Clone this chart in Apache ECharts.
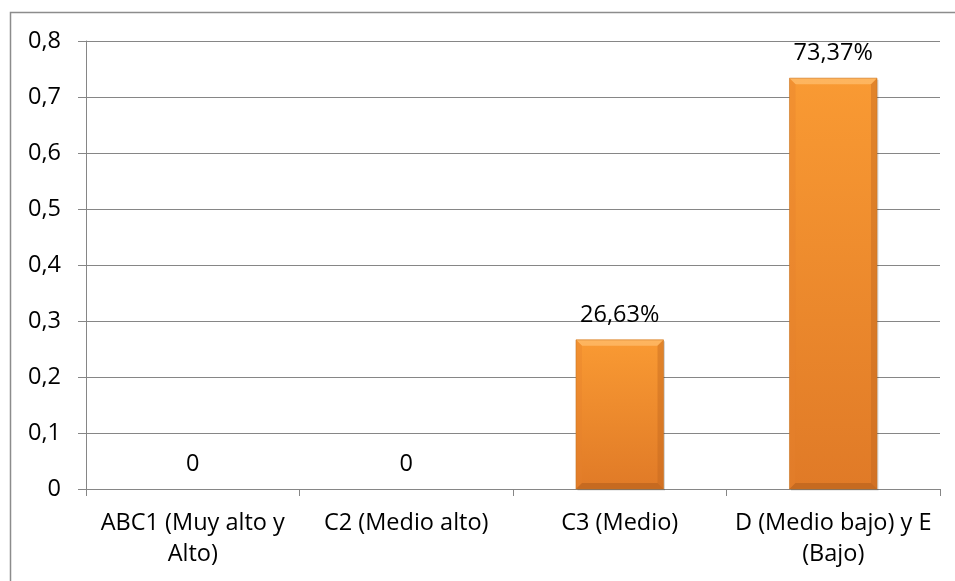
<!DOCTYPE html>
<html>
<head>
<meta charset="utf-8">
<script src="https://cdn.jsdelivr.net/npm/echarts@6/dist/echarts.min.js"></script>
<style>
  html, body { margin: 0; padding: 0; background: #fff; }
  #chart { width: 955px; height: 581px; }
</style>
</head>
<body>
<div id="chart"></div>
<script>
// Socioeconomic level categories and their shares
const categories = ['ABC1 (Muy alto y\nAlto)', 'C2 (Medio alto)', 'C3 (Medio)', 'D (Medio bajo) y E\n(Bajo)'];
const values = [0, 0, 0.2663, 0.7337];
const valueLabels = ['0', '0', '26,63%', '73,37%'];
const yTicks = { min: 0, max: 0.8, interval: 0.1 };

const FONT = '"Open Sans", sans-serif';
const FONT_SIZE = 23.5;
const BAR_RATIO = 0.41;
const chart = echarts.init(document.getElementById('chart'), null, { renderer: 'canvas' });

// Bevelled orange bar: flat face plus four edge facets
function renderBevelBar(params, api) {
  const v = api.value(1);
  if (!v) return null;
  const top = api.coord([api.value(0), v]);
  const base = api.coord([api.value(0), 0]);
  const w = api.size([1, 0])[0] * BAR_RATIO;
  const x0 = top[0] - w / 2, x1 = top[0] + w / 2;
  const y0 = top[1], y1 = base[1];
  const b = Math.min(6, (y1 - y0) / 3);
  const face = new echarts.graphic.LinearGradient(0, 0, 0, 1, [
    { offset: 0, color: '#F99A33' },
    { offset: 1, color: '#E07A27' }
  ]);
  return {
    type: 'group',
    children: [
      { type: 'rect', shape: { x: x0 + 1.5, y: y0 + 1.5, width: w, height: y1 - y0 },
        style: { fill: 'rgba(0,0,0,0.15)' } },
      { type: 'rect', shape: { x: x0, y: y0, width: w, height: y1 - y0 },
        style: { fill: face } },
      { type: 'polygon', shape: { points: [[x0, y0], [x1, y0], [x1 - b, y0 + b], [x0 + b, y0 + b]] },
        style: { fill: 'rgba(255,190,110,0.75)' } },
      { type: 'polygon', shape: { points: [[x0, y0], [x0 + b, y0 + b], [x0 + b, y1 - b], [x0, y1]] },
        style: { fill: 'rgba(230,130,45,0.35)' } },
      { type: 'polygon', shape: { points: [[x1, y0], [x1, y1], [x1 - b, y1 - b], [x1 - b, y0 + b]] },
        style: { fill: 'rgba(190,100,30,0.4)' } },
      { type: 'polygon', shape: { points: [[x0, y1], [x0 + b, y1 - b], [x1 - b, y1 - b], [x1, y1]] },
        style: { fill: 'rgba(180,95,28,0.6)' } },
      { type: 'rect', shape: { x: x0, y: y0, width: w, height: y1 - y0 },
        style: { fill: 'none', stroke: 'rgba(200,115,35,0.7)', lineWidth: 0.8 } }
    ]
  };
}

chart.setOption({
  animation: false,
  backgroundColor: '#ffffff',
  graphic: [{
    type: 'rect',
    shape: { x: 10.5, y: 12.5, width: 1000, height: 700 },
    style: { fill: 'none', stroke: '#8c8c8c', lineWidth: 1.5 },
    silent: true
  }],
  grid: { left: 86, right: 15, top: 41, bottom: 92 },
  xAxis: {
    type: 'category',
    data: categories,
    axisLine: { lineStyle: { color: '#868686', width: 1 } },
    axisTick: { show: true, length: 7, lineStyle: { color: '#868686' } },
    axisLabel: {
      color: '#000', fontFamily: FONT, fontSize: FONT_SIZE, lineHeight: 31,
      margin: 19, interval: 0, align: 'center'
    }
  },
  yAxis: {
    type: 'value',
    min: yTicks.min, max: yTicks.max, interval: yTicks.interval,
    axisLine: { show: true, lineStyle: { color: '#868686', width: 1 } },
    axisTick: { show: true, length: 8, lineStyle: { color: '#868686' } },
    splitLine: { show: true, lineStyle: { color: '#868686', width: 1 } },
    axisLabel: {
      color: '#000', fontFamily: FONT, fontSize: FONT_SIZE, margin: 25,
      formatter: v => String(Math.round(v * 10) / 10).replace('.', ',')
    }
  },
  series: [
    {
      type: 'custom',
      renderItem: renderBevelBar,
      encode: { x: 0, y: 1 },
      data: values.map((v, i) => [i, v]),
      z: 3
    },
    {
      // carries the value labels above each bar
      type: 'bar',
      data: values,
      barWidth: (BAR_RATIO * 100) + '%',
      itemStyle: { color: 'rgba(0,0,0,0)' },
      label: {
        show: true,
        position: 'top',
        distance: 13,
        color: '#000',
        fontFamily: FONT,
        fontSize: FONT_SIZE,
        formatter: p => valueLabels[p.dataIndex]
      },
      z: 4
    }
  ]
});
</script>
</body>
</html>
